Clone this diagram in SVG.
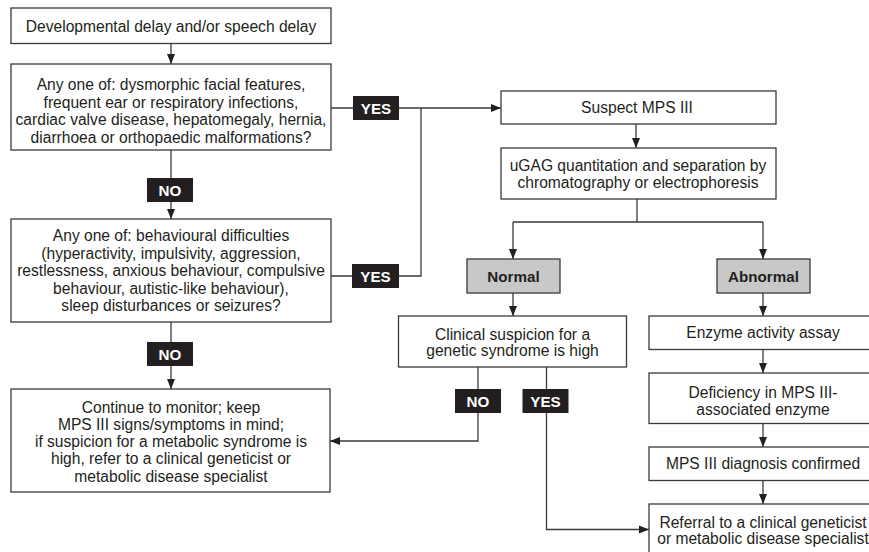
<svg xmlns="http://www.w3.org/2000/svg" width="869" height="552" viewBox="0 0 869 552">
<defs>
<marker id="ah" markerUnits="userSpaceOnUse" markerWidth="10" markerHeight="10" viewBox="0 0 10 10" refX="10" refY="5" orient="auto">
<path d="M0,1 L10,5 L0,9 z" fill="#231f20"/>
</marker>
<style>
.box{fill:#fff;stroke:#3a3a3a;stroke-width:1.3}
.gray{fill:#c8c8c8;stroke:#3a3a3a;stroke-width:1.3}
.lbl{fill:#231f20}
.t{font-family:"Liberation Sans",Arial,sans-serif;font-size:15.6px;fill:#231f20;text-anchor:middle}
.b{font-family:"Liberation Sans",Arial,sans-serif;font-size:15.2px;font-weight:bold;text-anchor:middle}
.w{fill:#fff}
.k{fill:#231f20}
.c{fill:none;stroke:#3a3a3a;stroke-width:1.3}
.a{marker-end:url(#ah)}
</style>
</defs>
<rect width="869" height="552" fill="#fff"/>

<g id="connectors">
<path class="c a" d="M171,43.5 V64"/>
<path class="c a" d="M331,108 H501"/>
<path class="c" d="M421,108 V276 H331"/>
<path class="c a" d="M171,150 V219"/>
<path class="c a" d="M171,322 V389"/>
<path class="c a" d="M636,124 V148"/>
<path class="c" d="M637,199 V222 M513,222 H763"/>
<path class="c a" d="M513,222 V259"/>
<path class="c a" d="M763,222 V259"/>
<path class="c a" d="M513,293 V316"/>
<path class="c a" d="M478,367 V441 H330"/>
<path class="c a" d="M546.5,367 V529.5 H649"/>
<path class="c a" d="M763,293 V316"/>
<path class="c a" d="M763,349.5 V373"/>
<path class="c a" d="M763,423.5 V447"/>
<path class="c a" d="M763,480.5 V504"/>
</g>

<g id="n1">
<rect class="box" x="11" y="8" width="320" height="35.5"/>
<text class="t" x="171" y="31.5">Developmental delay and/or speech delay</text>
</g>

<g id="n2">
<rect class="box" x="11" y="64" width="320" height="86"/>
<text class="t" x="171" y="90">Any one of: dysmorphic facial features,</text>
<text class="t" x="171" y="107.7">frequent ear or respiratory infections,</text>
<text class="t" x="171" y="125.4">cardiac valve disease, hepatomegaly, hernia,</text>
<text class="t" x="171" y="143.1">diarrhoea or orthopaedic malformations?</text>
</g>

<g id="yes1">
<rect class="lbl" x="353" y="96" width="46" height="24"/>
<text class="b w" x="376" y="113.5">YES</text>
</g>

<g id="no1">
<rect class="lbl" x="147" y="178" width="46" height="24"/>
<text class="b w" x="170" y="195.5">NO</text>
</g>

<g id="n3">
<rect class="box" x="11" y="219" width="320" height="103"/>
<text class="t" x="171" y="241">Any one of: behavioural difficulties</text>
<text class="t" x="171" y="258.6">(hyperactivity, impulsivity, aggression,</text>
<text class="t" x="171" y="276.2">restlessness, anxious behaviour, compulsive</text>
<text class="t" x="171" y="293.8">behaviour, autistic-like behaviour),</text>
<text class="t" x="171" y="311.4">sleep disturbances or seizures?</text>
</g>

<g id="yes2">
<rect class="lbl" x="352" y="264" width="47" height="24"/>
<text class="b w" x="375.5" y="281.5">YES</text>
</g>

<g id="no2">
<rect class="lbl" x="147" y="342" width="46" height="24"/>
<text class="b w" x="170" y="359.5">NO</text>
</g>

<g id="n4">
<rect class="box" x="11" y="389" width="319" height="103"/>
<text class="t" x="171" y="412.8">Continue to monitor; keep</text>
<text class="t" x="171" y="430">MPS III signs/symptoms in mind;</text>
<text class="t" x="171" y="447.2">if suspicion for a metabolic syndrome is</text>
<text class="t" x="171" y="464.4">high, refer to a clinical geneticist or</text>
<text class="t" x="171" y="481.6">metabolic disease specialist</text>
</g>

<g id="n5">
<rect class="box" x="501" y="91" width="275" height="33"/>
<text class="t" x="637" y="113">Suspect MPS III</text>
</g>

<g id="n6">
<rect class="box" x="501" y="148" width="275" height="51"/>
<text class="t" x="638" y="171">uGAG quantitation and separation by</text>
<text class="t" x="638" y="188.2">chromatography or electrophoresis</text>
</g>

<g id="n7">
<rect class="gray" x="467" y="259" width="93" height="34"/>
<text class="b k" x="513.5" y="281.5">Normal</text>
</g>

<g id="n8">
<rect class="gray" x="717" y="259" width="93" height="34"/>
<text class="b k" x="763.5" y="281.5">Abnormal</text>
</g>

<g id="n9">
<rect class="box" x="398.5" y="316" width="228" height="51"/>
<text class="t" x="512.5" y="339.5">Clinical suspicion for a</text>
<text class="t" x="512.5" y="356.2">genetic syndrome is high</text>
</g>

<g id="no3">
<rect class="lbl" x="455" y="389" width="46" height="24"/>
<text class="b w" x="478" y="406.5">NO</text>
</g>

<g id="yes3">
<rect class="lbl" x="522.5" y="389" width="46" height="24"/>
<text class="b w" x="545.5" y="406.5">YES</text>
</g>

<g id="n10">
<rect class="box" x="649" y="316" width="230" height="33.5"/>
<text class="t" x="763" y="338">Enzyme activity assay</text>
</g>

<g id="n11">
<rect class="box" x="649" y="373" width="230" height="50.5"/>
<text class="t" x="763" y="397.8">Deficiency in MPS III-</text>
<text class="t" x="763" y="414.5">associated enzyme</text>
</g>

<g id="n12">
<rect class="box" x="649" y="447" width="230" height="33.5"/>
<text class="t" x="763" y="469">MPS III diagnosis confirmed</text>
</g>

<g id="n13">
<rect class="box" x="649" y="504" width="230" height="60"/>
<text class="t" x="763" y="527.8">Referral to a clinical geneticist</text>
<text class="t" x="763" y="544.2">or metabolic disease specialist</text>
</g>
</svg>
